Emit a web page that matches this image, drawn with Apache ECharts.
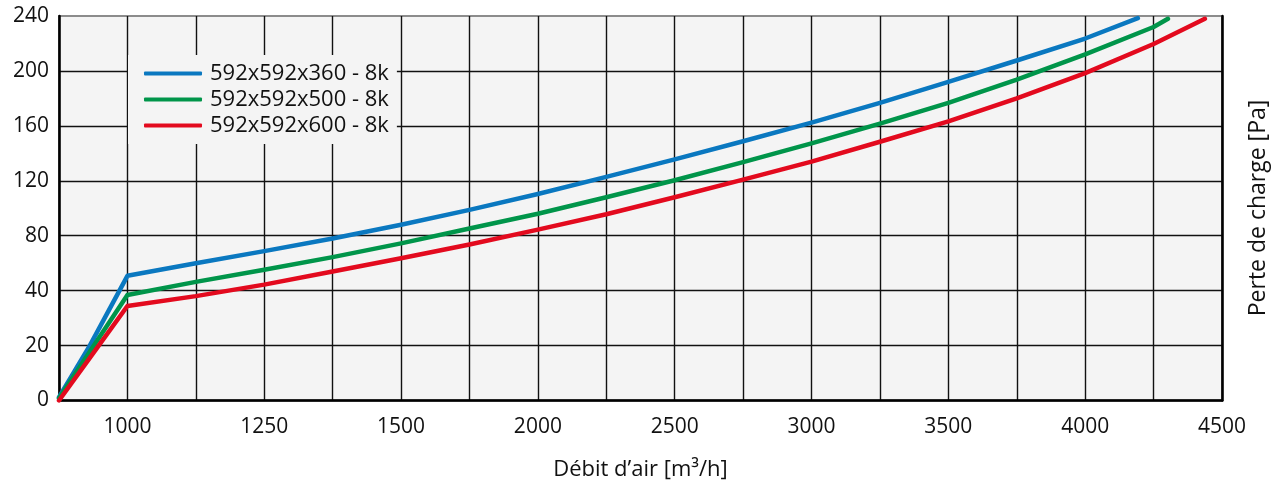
<!DOCTYPE html>
<html>
<head>
<meta charset="utf-8">
<script src="https://cdn.jsdelivr.net/npm/echarts@6/dist/echarts.min.js"></script>
<style>
html,body{margin:0;padding:0;background:#fff;}
#chart{width:1273px;height:486px;}
</style>
</head>
<body>
<div id="chart"></div>
<script>
// Tick labels (axis positions are gridline indices)
const xTickLabels = ['', '1000', '', '1250', '', '1500', '', '2000', '', '2500', '', '3000', '', '3500', '', '4000', '', '4500'];
const yTickLabels = ['0', '20', '40', '80', '120', '160', '200', '240'];

const seriesNames = ['592x592x360 - 8k', '592x592x500 - 8k', '592x592x600 - 8k'];

// Values, in axis grid units [x gridline index, y gridline index]
const blue360 = [[0,0.06],[0.45,1.0],[1,2.27],[2,2.50],[3,2.72],[4,2.95],[5,3.20],[6,3.47],[7,3.76],[8,4.07],[9,4.39],[10,4.72],[11,5.06],[12,5.42],[13,5.80],[14,6.19],[15,6.59],[15.77,6.96]];
const green500 = [[0,0.04],[0.51,1.0],[1,1.92],[2,2.16],[3,2.38],[4,2.61],[5,2.86],[6,3.13],[7,3.40],[8,3.70],[9,4.01],[10,4.34],[11,4.68],[12,5.04],[13,5.42],[14,5.84],[15,6.30],[16,6.80],[16.21,6.95]];
const red600 = [[0,0],[0.58,1.0],[1,1.72],[2,1.90],[3,2.11],[4,2.35],[5,2.59],[6,2.84],[7,3.11],[8,3.39],[9,3.70],[10,4.02],[11,4.35],[12,4.71],[13,5.08],[14,5.50],[15,5.96],[16,6.49],[16.75,6.95]];

const colors = ['#0a78c0', '#00954a', '#e30a1e'];
const FONT = 'Open Sans';

const chart = echarts.init(document.getElementById('chart'), null, {renderer: 'canvas'});

function mkSeries(name, data, color) {
  return {
    name: name, type: 'line', data: data, showSymbol: false, symbol: 'none',
    lineStyle: {color: color, width: 4.5, cap: 'round', join: 'round'},
    itemStyle: {color: color}, z: 5, animation: false
  };
}

chart.setOption({
  animation: false,
  grid: {
    left: 59, right: 51, top: 16, bottom: 85.5,
    show: true, backgroundColor: '#f4f4f4', borderColor: '#8c8c8c', borderWidth: 2
  },
  legend: {
    left: 128, top: 55,
    orient: 'vertical',
    backgroundColor: '#f4f4f4',
    padding: [7, 8, 7, 16],
    itemGap: 3,
    itemWidth: 58, itemHeight: 4,
    icon: 'roundRect',
    textStyle: {fontFamily: FONT, fontSize: 22, color: '#111', lineHeight: 23, padding: [0, 0, 0, 3]},
    data: seriesNames
  },
  xAxis: {
    type: 'value', min: 0, max: 17, interval: 1,
    name: 'Débit d\u2019air [m³/h]',
    nameLocation: 'middle', nameGap: 58,
    nameTextStyle: {fontFamily: FONT, fontSize: 22, color: '#111'},
    axisLine: {show: true, lineStyle: {color: '#000', width: 2.5}},
    axisTick: {show: false},
    axisLabel: {
      fontFamily: FONT, fontSize: 21, color: '#111', margin: 16,
      formatter: function (v) { return xTickLabels[Math.round(v)] || ''; }
    },
    splitLine: {show: true, lineStyle: {color: '#111', width: 1.4}}
  },
  yAxis: [{
    type: 'value', min: 0, max: 7, interval: 1,
    axisLine: {show: true, lineStyle: {color: '#000', width: 2.5}},
    axisTick: {show: false},
    axisLabel: {
      fontFamily: FONT, fontSize: 21, color: '#111', margin: 10,
      formatter: function (v) { return yTickLabels[Math.round(v)] || ''; }
    },
    splitLine: {show: true, showMaxLine: false, lineStyle: {color: '#111', width: 1.4}}
  }, {
    type: 'value', min: 0, max: 7, interval: 1, position: 'right',
    axisLine: {show: true, lineStyle: {color: '#000', width: 2.5}},
    axisTick: {show: false}, axisLabel: {show: false}, splitLine: {show: false}
  }],
  graphic: [{
    type: 'text', rotation: Math.PI / 2,
    x: 1258, y: 208,
    style: {text: 'Perte de charge [Pa]', fontFamily: FONT, fontSize: 23, fill: '#111',
            textAlign: 'center', textVerticalAlign: 'middle'}
  }],
  series: [
    mkSeries(seriesNames[0], blue360, colors[0]),
    mkSeries(seriesNames[1], green500, colors[1]),
    mkSeries(seriesNames[2], red600, colors[2])
  ]
});
</script>
</body>
</html>
